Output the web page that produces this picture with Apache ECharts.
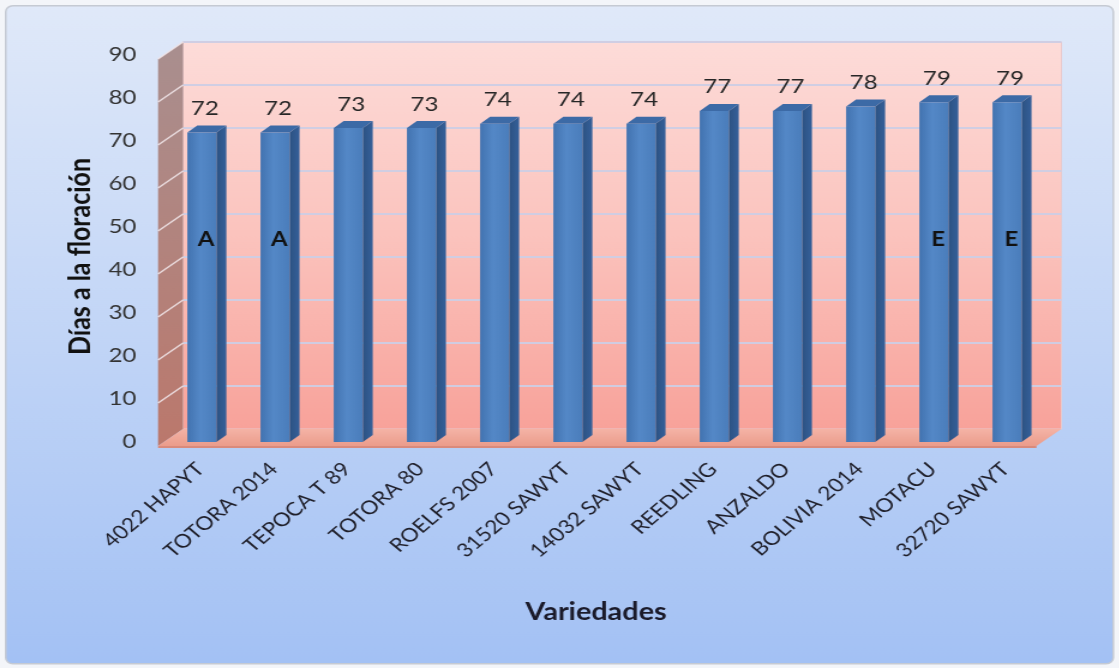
<!DOCTYPE html>
<html>
<head>
<meta charset="utf-8">
<script src="https://cdn.jsdelivr.net/npm/echarts@6/dist/echarts.min.js"></script>
<style>
  html, body { margin: 0; padding: 0; background: #f3f5f9; overflow: hidden; }
  /* the chart is drawn on a narrower canvas and widened, giving the broad lettering */
  #chart { width: 932px; height: 668px; transform: scaleX(1.2); transform-origin: 0 0; }
</style>
</head>
<body>
<div id="chart"></div>
<script>
// Días a la floración por variedad
const categories = [
  '4022 HAPYT', 'TOTORA 2014', 'TEPOCA T 89', 'TOTORA 80', 'ROELFS 2007',
  '31520 SAWYT', '14032 SAWYT', 'REEDLING', 'ANZALDO', 'BOLIVIA 2014',
  'MOTACU', '32720 SAWYT'
];
const floweringDays = [72, 72, 73, 73, 74, 74, 74, 77, 77, 78, 79, 79];
const groupLetters = ['A', 'A', '', '', '', '', '', '', '', '', 'E', 'E'];
const yMin = 0;
const yMax = 90;
const yStep = 10;

// pseudo-3D geometry (offsets relative to the bar plane, in canvas units)
const FRONT = [-5, 4];         // front edge of floor / left wall
const BACK = [15.8, -13];      // back wall plane
const BAR_DEPTH = [8.3, -7];   // depth of each bar
const BAR_HALF = 12.1;
const LETTER_LEVEL = 47;       // height at which group letters sit
const FONT = 'Lato, "Open Sans", sans-serif';

const chart = echarts.init(document.getElementById('chart'), null, { renderer: 'canvas' });

function renderWalls(params, api) {
  const cs = params.coordSys;
  const L = cs.x, R = cs.x + cs.width;
  const yv = v => api.coord([0, v])[1];
  const y0 = yv(yMin), yT = yv(yMax);
  const children = [];
  // back wall
  children.push({
    type: 'polygon',
    shape: { points: [[L + BACK[0], yT + BACK[1]], [R + BACK[0], yT + BACK[1]], [R + BACK[0], y0 + BACK[1]], [L + BACK[0], y0 + BACK[1]]] },
    style: {
      fill: new echarts.graphic.LinearGradient(0, 0, 0, 1, [
        { offset: 0, color: '#fddcd9' },
        { offset: 0.5, color: '#fbc3bd' },
        { offset: 1, color: '#f8a29a' }
      ]),
      stroke: '#e9c9cc', lineWidth: 1
    }
  });
  // left side wall
  children.push({
    type: 'polygon',
    shape: { points: [[L + FRONT[0], yT + FRONT[1]], [L + BACK[0], yT + BACK[1]], [L + BACK[0], y0 + BACK[1]], [L + FRONT[0], y0 + FRONT[1]]] },
    style: {
      fill: new echarts.graphic.LinearGradient(0, 0, 0, 1, [
        { offset: 0, color: '#a98f8f' },
        { offset: 1, color: '#bb786c' }
      ])
    }
  });
  // floor
  children.push({
    type: 'polygon',
    shape: { points: [[L + FRONT[0], y0 + FRONT[1]], [R + FRONT[0], y0 + FRONT[1]], [R + BACK[0], y0 + BACK[1]], [L + BACK[0], y0 + BACK[1]]] },
    style: {
      fill: new echarts.graphic.LinearGradient(0, 0, 0, 1, [
        { offset: 0, color: '#f4b3a6' },
        { offset: 1, color: '#eb9c8b' }
      ])
    }
  });
  children.push({
    type: 'line',
    shape: { x1: L + FRONT[0], y1: y0 + FRONT[1] + 1, x2: R + FRONT[0], y2: y0 + FRONT[1] + 1 },
    style: { stroke: '#d98a7c', lineWidth: 2 }
  });
  // grid lines on back wall and side wall
  for (let v = yMin + yStep; v <= yMax; v += yStep) {
    const y = yv(v);
    children.push({
      type: 'line',
      shape: { x1: L + BACK[0], y1: y + BACK[1], x2: R + BACK[0], y2: y + BACK[1] },
      style: { stroke: 'rgba(205,205,228,0.95)', lineWidth: 2 }
    });
    children.push({
      type: 'line',
      shape: { x1: L + FRONT[0], y1: y + FRONT[1], x2: L + BACK[0], y2: y + BACK[1] },
      style: { stroke: 'rgba(240,228,232,0.9)', lineWidth: 1.5 }
    });
  }
  return { type: 'group', children };
}

function renderBar(params, api) {
  const i = api.value(0);
  const v = api.value(1);
  const top = api.coord([i, v]);
  const base = api.coord([i, 0]);
  const cx = top[0] + 1;
  const x1 = cx - BAR_HALF, x2 = cx + BAR_HALF;
  const yt = top[1], yb = base[1];
  const dx = BAR_DEPTH[0], dy = BAR_DEPTH[1];
  const children = [
    {
      type: 'polygon',
      shape: { points: [[x2, yt], [x2 + dx, yt + dy], [x2 + dx, yb + dy], [x2, yb]] },
      style: { fill: new echarts.graphic.LinearGradient(0, 0, 1, 0, [
        { offset: 0, color: '#2c5282' }, { offset: 1, color: '#35609a' }]) }
    },
    {
      type: 'polygon',
      shape: { points: [[x1, yt], [x2, yt], [x2 + dx, yt + dy], [x1 + dx, yt + dy]] },
      style: { fill: '#3c6aa6' }
    },
    {
      type: 'rect',
      shape: { x: x1, y: yt, width: x2 - x1, height: yb - yt },
      style: { fill: new echarts.graphic.LinearGradient(0, 0, 1, 0, [
        { offset: 0, color: '#4273b0' },
        { offset: 0.45, color: '#5488c7' },
        { offset: 1, color: '#4a7dbb' }]) }
    },
    {
      type: 'text',
      x: cx + 2.5, y: yt - 24,
      style: { text: String(v), fill: '#262626', font: '20px ' + FONT, align: 'center', verticalAlign: 'middle' }
    }
  ];
  const letter = groupLetters[i];
  if (letter) {
    children.push({
      type: 'text',
      x: cx + 3.5, y: api.coord([i, LETTER_LEVEL])[1],
      style: { text: letter, fill: '#111', font: 'bold 20px ' + FONT, align: 'center', verticalAlign: 'middle' }
    });
  }
  return { type: 'group', children };
}

const option = {
  animation: false,
  backgroundColor: 'transparent',
  graphic: [{
    type: 'rect',
    left: 4, top: 5, z: -10,
    shape: { width: 923, height: 658, r: 6 },
    style: {
      fill: new echarts.graphic.LinearGradient(0, 0, 0, 1, [
        { offset: 0, color: '#e0e9f9' },
        { offset: 1, color: '#a3c1f4' }
      ]),
      stroke: '#c5cad3', lineWidth: 1.5
    }
  }],
  grid: { left: 136.7, right: 63.3, top: 55, bottom: 226 },
  xAxis: {
    type: 'category',
    data: categories,
    name: 'Variedades',
    nameLocation: 'middle',
    nameGap: 158,
    nameTextStyle: { fontFamily: FONT, fontWeight: 'bold', fontSize: 24, color: '#1a1a2a', padding: [0, 12, 0, 0] },
    axisLine: { show: false },
    axisTick: { show: false },
    axisLabel: { rotate: 45, margin: 24, fontFamily: FONT, fontSize: 19, color: '#1f1f2a', interval: 0 }
  },
  yAxis: {
    type: 'value',
    min: yMin, max: yMax, interval: yStep,
    name: 'Días a la floración',
    nameLocation: 'middle',
    nameGap: 45,
    nameTextStyle: { fontFamily: FONT, fontWeight: 'bold', fontSize: 25, color: '#111', padding: [0, 16, 0, 0] },
    axisLine: { show: false },
    axisTick: { show: false },
    splitLine: { show: false },
    axisLabel: { margin: 23, fontFamily: FONT, fontSize: 20, color: '#333', padding: [8, 0, 0, 0] }
  },
  series: [
    {
      type: 'custom',
      renderItem: renderWalls,
      data: [[0, 0]],
      z: 1,
      silent: true
    },
    {
      type: 'custom',
      renderItem: renderBar,
      data: floweringDays.map((v, i) => [i, v]),
      encode: { x: 0, y: 1 },
      z: 2
    }
  ]
};

chart.setOption(option);
</script>
</body>
</html>
